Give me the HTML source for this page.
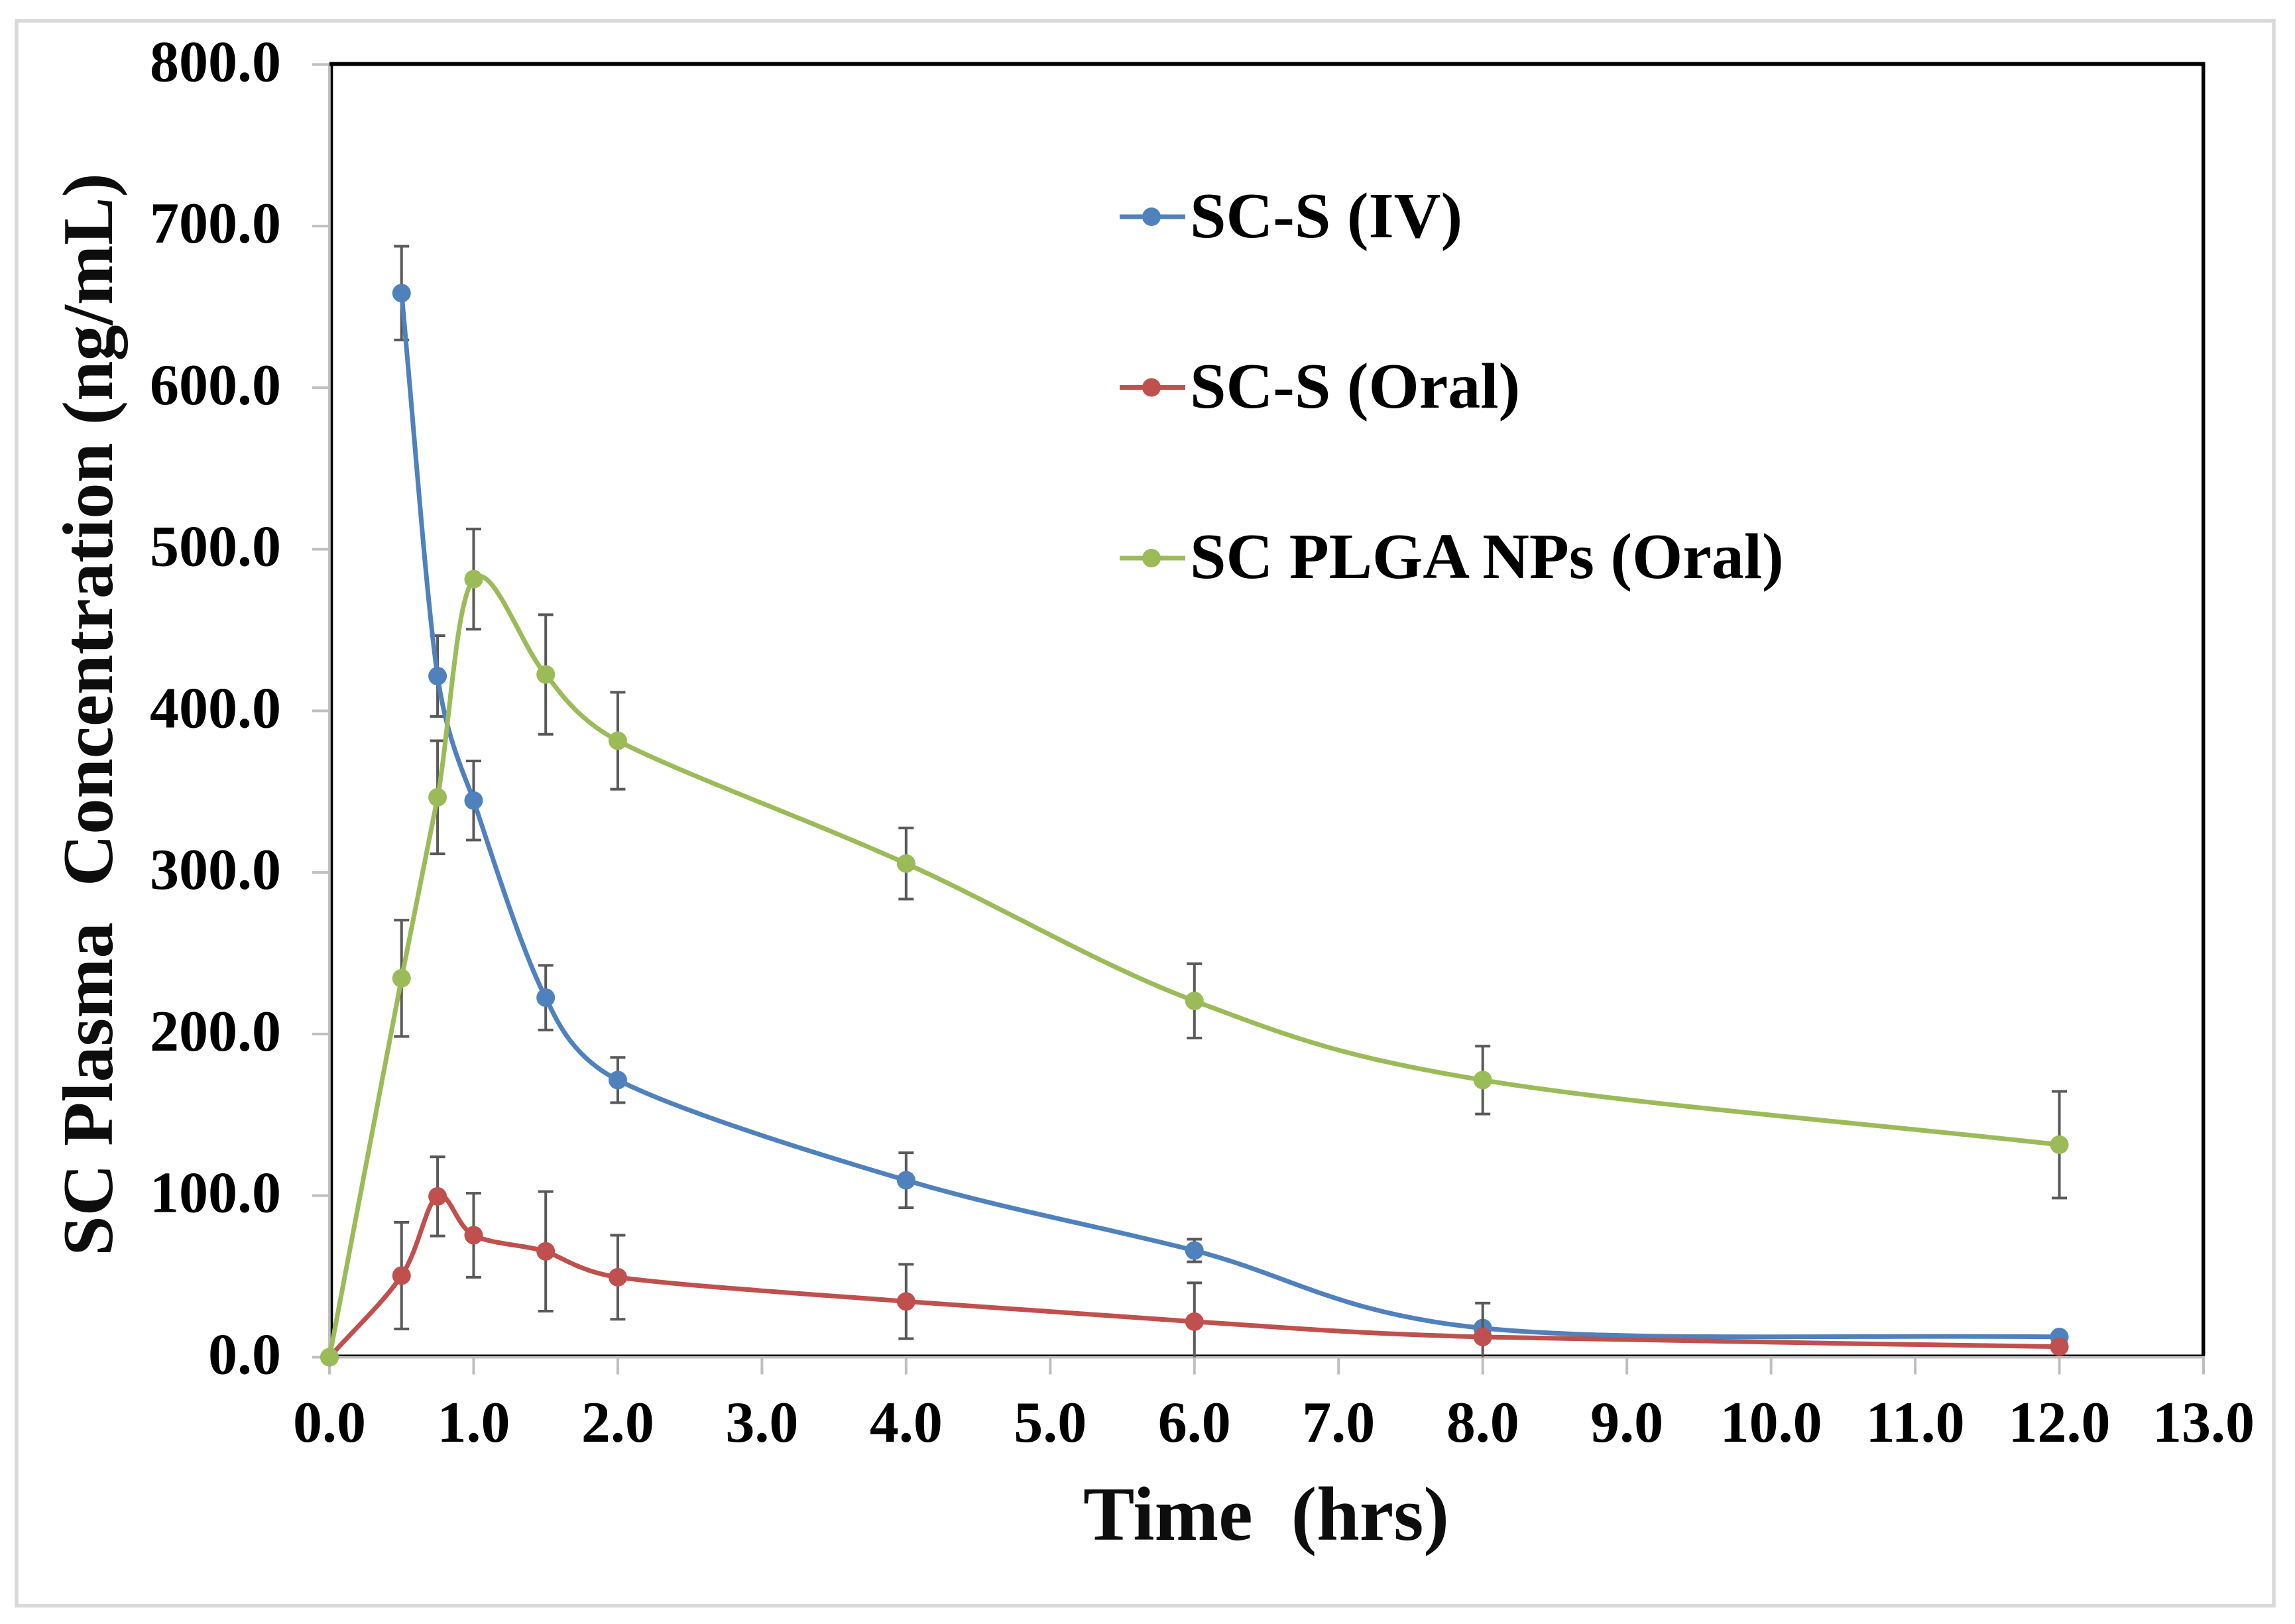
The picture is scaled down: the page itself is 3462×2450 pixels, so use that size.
<!DOCTYPE html>
<html>
<head>
<meta charset="utf-8">
<title>SC Plasma Concentration vs Time</title>
<style>
html,body{margin:0;padding:0;background:#fff;width:3462px;height:2450px;overflow:hidden}
svg{display:block}
text{font-family:"Liberation Serif","Times New Roman",serif;font-weight:bold;white-space:pre}
</style>
</head>
<body>
<svg id="chart" xmlns="http://www.w3.org/2000/svg" width="3462" height="2450" viewBox="0 0 3462 2450">
  <rect x="25" y="31.5" width="3405" height="2391" fill="#fff" stroke="#d9d9d9" stroke-width="5.5"/>
  <g id="axes"></g>
  <g id="series"></g>
  <text transform="translate(169,1078) rotate(-90)" text-anchor="middle" font-size="108.5" fill="#0d0d0d">SC Plasma  Concentration (ng/mL)</text>
  <text x="1910" y="2323" text-anchor="middle" font-size="116" fill="#0d0d0d">Time  (hrs)</text>
  <g id="legend"></g>
</svg>
<script>
const xTickLabels = ["0.0","1.0","2.0","3.0","4.0","5.0","6.0","7.0","8.0","9.0","10.0","11.0","12.0","13.0"];
const yTickLabels = ["0.0","100.0","200.0","300.0","400.0","500.0","600.0","700.0","800.0"];
const seriesNames = ["SC-S (IV)","SC-S (Oral)","SC PLGA NPs (Oral)"];
const ivTimes = [0.5,0.75,1,1.5,2,4,6,8,12];
const ivValues = [658.5,421.5,344.5,222.5,171.5,109.5,66,18,12.5];
const ivErrors = [29,25,24.5,20,14,17,7,0,0];
const oralTimes = [0,0.5,0.75,1,1.5,2,4,6,8,12];
const oralValues = [0,50.5,99.5,75.5,65.5,49.5,34.5,22,12.5,6.5];
const oralErrors = [0,33,24.5,26,37,26,23,24,21,0];
const plgaTimes = [0,0.5,0.75,1,1.5,2,4,6,8,12];
const plgaValues = [0,234.5,346.5,481.5,422.5,381.5,305.5,220.5,171.5,131.5];
const plgaErrors = [0,36,35,31,37,30,22,23,21,33];
const xMax = 13;
const yMax = 800;

const NS = "http://www.w3.org/2000/svg";
function xs(t){ return 497 + t / xMax * 2827; }
function ys(v){ return 2047.5 - v / yMax * 1950.2; }
function mk(tag, parent, attrs, txt){
  const el = document.createElementNS(NS, tag);
  for (const k in attrs) el.setAttribute(k, attrs[k]);
  if (txt !== undefined) el.textContent = txt;
  parent.appendChild(el);
  return el;
}
function dist(a,b){ return Math.hypot(a[0]-b[0], a[1]-b[1]) || 1e-6; }
/* Excel-style smoothed line through the points */
function smoothPath(pts){
  let d = "M" + pts[0][0].toFixed(2) + " " + pts[0][1].toFixed(2);
  const n = pts.length;
  for (let i = 0; i < n - 1; i++){
    const p0 = pts[i === 0 ? 0 : i-1], p1 = pts[i], p2 = pts[i+1], p3 = pts[i+2 >= n ? n-1 : i+2];
    const d12 = dist(p1,p2), d02 = dist(p0,p2), d13 = dist(p1,p3);
    const f = i === 0 ? 1/3 : 1/6, g = i === n-2 ? 1/3 : 1/6;
    let a, b;
    const c1 = d02/6 < d12/2, c2 = d13/6 < d12/2;
    if (c1 && c2){ a = f; b = g; }
    else if (!c1 && !c2){ a = d12/2/d02; b = d12/2/d13; }
    else if (!c1){ a = d12/2/d02; b = d12/d13*g; }
    else { a = d12/d02*f; b = d12/2/d13; }
    const b1x = p1[0] + (p2[0]-p0[0])*a, b1y = p1[1] + (p2[1]-p0[1])*a;
    const b2x = p2[0] - (p3[0]-p1[0])*b, b2y = p2[1] - (p3[1]-p1[1])*b;
    d += " C" + b1x.toFixed(2) + " " + b1y.toFixed(2) + " " + b2x.toFixed(2) + " " + b2y.toFixed(2) + " " + p2[0].toFixed(2) + " " + p2[1].toFixed(2);
  }
  return d;
}

const axes = document.getElementById("axes");
/* grey axis lines */
const yAxisLine = mk("rect", axes, {x:495, y:95, width:4, height:1955, fill:"#bfbfbf"});


const xAxisLine = mk("rect", axes, {x:495, y:2045.5, width:2831, height:4, fill:"#bfbfbf"});


/* black plot border */
const borderTop = mk("rect", axes, {x:497, y:93.5, width:2829.5, height:6, fill:"#000"});


const borderLeft = mk("rect", axes, {x:498.8, y:93.5, width:3.5, height:1952, fill:"#000"});


const borderRight = mk("rect", axes, {x:3321, y:93.5, width:5.5, height:1952, fill:"#000"});


const borderBottom = mk("rect", axes, {x:498.8, y:2043.5, width:2827, height:2.5, fill:"#000"});



yTickLabels.forEach(function(label){
  const v = parseFloat(label), y = ys(v);
  const tick = mk("rect", axes, {x:471, y:y-2, width:26, height:4, fill:"#bfbfbf"});
  
  
  const t = mk("text", axes, {x:424, y:y+25, "text-anchor":"end", "font-size":88, fill:"#000"}, label);
  
  
});
xTickLabels.forEach(function(label){
  const v = parseFloat(label), x = xs(v);
  const tick = mk("rect", axes, {x:x-2, y:2047.5, width:4, height:26, fill:"#bfbfbf"});
  
  
  const t = mk("text", axes, {x:x, y:2175, "text-anchor":"middle", "font-size":88, fill:"#000"}, label);
  
  
});

const seriesRoot = document.getElementById("series");
const colors = ["#4f81bd","#c0504d","#9bbb59"];
function drawSeries(times, values, errors, color, key){
  const g = mk("g", seriesRoot, {});
  
  
  times.forEach(function(t, i){
    const e = errors[i];
    if (!e) return;
    const x = xs(t), yTop = ys(values[i] + e), low = values[i] - e, yBot = ys(Math.max(0, low));
    const bar = mk("line", g, {x1:x, x2:x, y1:yTop, y2:yBot, stroke:"#595959", "stroke-width":4});
    
    
    const capT = mk("line", g, {x1:x-11.5, x2:x+11.5, y1:yTop, y2:yTop, stroke:"#595959", "stroke-width":4});
    
    
    if (low > 0){
      const capB = mk("line", g, {x1:x-11.5, x2:x+11.5, y1:yBot, y2:yBot, stroke:"#595959", "stroke-width":4});
      
      
    }
  });
  const pts = times.map(function(t, i){ return [xs(t), ys(values[i])]; });
  const line = mk("path", g, {d:smoothPath(pts), fill:"none", stroke:color, "stroke-width":7, "stroke-linecap":"round", "stroke-linejoin":"round"});
  
  
  pts.forEach(function(p){
    const dot = mk("circle", g, {cx:p[0], cy:p[1], r:14, fill:color});
    
    
  });
}
drawSeries(ivTimes, ivValues, ivErrors, colors[0], "iv");
drawSeries(oralTimes, oralValues, oralErrors, colors[1], "oral");
drawSeries(plgaTimes, plgaValues, plgaErrors, colors[2], "plga");

const legend = document.getElementById("legend");
seriesNames.forEach(function(name, i){
  const cy = 327 + i * 257.5;
  const entry = mk("g", legend, {});
  
  
  const l = mk("line", entry, {x1:1689, x2:1788, y1:cy, y2:cy, stroke:colors[i], "stroke-width":7});
  
  
  const c = mk("circle", entry, {cx:1737, cy:cy, r:14, fill:colors[i]});
  
  
  const t = mk("text", entry, {x:1795, y:358 + i * 257, "font-size":98, fill:"#000"}, name);
  
  
});
</script>
</body>
</html>
